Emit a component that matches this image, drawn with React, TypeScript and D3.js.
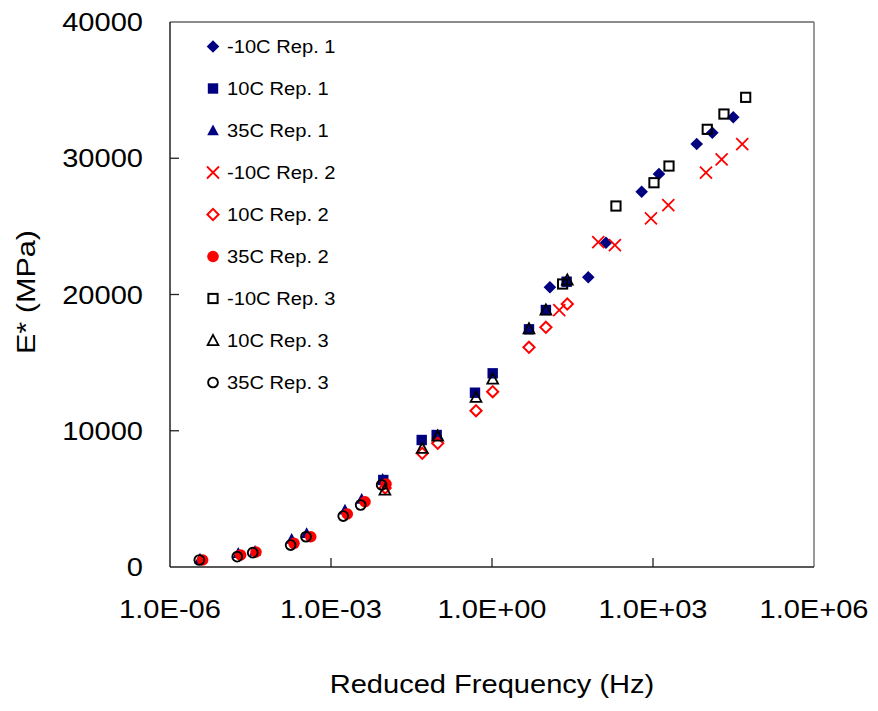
import React from "react";
import * as d3 from "d3";

// ---- Data (frequency in Hz, E* in MPa) ----
const seriesNames = [
  "-10C Rep. 1", "10C Rep. 1", "35C Rep. 1",
  "-10C Rep. 2", "10C Rep. 2", "35C Rep. 2",
  "-10C Rep. 3", "10C Rep. 3", "35C Rep. 3",
];

const m10Rep1Freq = [12.0, 62.2, 133, 615, 1291, 6516, 12735, 31333];
const m10Rep1E = [20527, 21261, 23800, 27543, 28842, 31044, 31874, 33004];

const p10Rep1Freq = [9.42e-3, 4.9e-2, 9.31e-2, 0.482, 1.03, 4.89, 10.1, 24.6];
const p10Rep1E = [6385, 9321, 9687, 12792, 14214, 17444, 18861, 20938];

const p35Rep1Freq = [3.62e-6, 1.87e-5, 3.84e-5, 1.85e-4, 3.52e-4, 1.82e-3, 3.73e-3, 9.18e-3];
const p35Rep1E = [600, 1020, 1180, 2050, 2480, 4200, 5000, 6450];

const m10Rep2Freq = [17.9, 95.5, 195, 916, 1928, 9705, 19011, 46026];
const m10Rep2E = [18861, 23852, 23632, 25590, 26567, 28937, 29920, 31044];

const p10Rep2Freq = [1.02e-2, 5.02e-2, 9.73e-2, 0.504, 1.03, 4.89, 10.1, 25.3];
const p10Rep2E = [5800, 8345, 9078, 11471, 12866, 16124, 17592, 19302];

const p35Rep2Freq = [4.06e-6, 2.07e-5, 4.0e-5, 2.04e-4, 4.19e-4, 2.01e-3, 4.3e-3, 1.06e-2];
const p35Rep2E = [514, 880, 1100, 1740, 2220, 3890, 4790, 6090];

const m10Rep3Freq = [20.7, 204, 1042, 1986, 10257, 20989, 53333];
const m10Rep3E = [20770, 26494, 28204, 29429, 32122, 33245, 34471];

const p10Rep3Freq = [1.01e-2, 5.02e-2, 9.73e-2, 0.504, 1.03, 4.89, 10.1, 25.3];
const p10Rep3E = [5651, 8711, 9614, 12454, 13797, 17489, 18861, 21063];

const p35Rep3Freq = [3.52e-6, 1.79e-5, 3.48e-5, 1.77e-4, 3.42e-4, 1.69e-3, 3.57e-3, 8.79e-3];
const p35Rep3E = [514, 756, 1050, 1610, 2220, 3740, 4550, 6020];

const xTickValues = [1e-6, 1e-3, 1, 1e3, 1e6];
const xTickLabels = ["1.0E-06", "1.0E-03", "1.0E+00", "1.0E+03", "1.0E+06"];
const yTickValues = [0, 10000, 20000, 30000, 40000];
const yTickLabels = ["0", "10000", "20000", "30000", "40000"];

const xTitle = "Reduced Frequency (Hz)";
const yTitle = "E* (MPa)";

// ---- Styles ----
const NAVY = "#000080";
const RED = "#FF0000";
const BLACK = "#000000";
const FONT = "'Liberation Sans', Arial, sans-serif";

type MarkerType =
  | "diamondFill" | "squareFill" | "triangleFill"
  | "cross" | "diamondOpen" | "circleFill"
  | "squareOpen" | "triangleOpen" | "circleOpen";

const seriesStyle: { marker: MarkerType; color: string }[] = [
  { marker: "diamondFill", color: NAVY },
  { marker: "squareFill", color: NAVY },
  { marker: "triangleFill", color: NAVY },
  { marker: "cross", color: RED },
  { marker: "diamondOpen", color: RED },
  { marker: "circleFill", color: RED },
  { marker: "squareOpen", color: BLACK },
  { marker: "triangleOpen", color: BLACK },
  { marker: "circleOpen", color: BLACK },
];

const seriesData = [
  [m10Rep1Freq, m10Rep1E],
  [p10Rep1Freq, p10Rep1E],
  [p35Rep1Freq, p35Rep1E],
  [m10Rep2Freq, m10Rep2E],
  [p10Rep2Freq, p10Rep2E],
  [p35Rep2Freq, p35Rep2E],
  [m10Rep3Freq, m10Rep3E],
  [p10Rep3Freq, p10Rep3E],
  [p35Rep3Freq, p35Rep3E],
];

function Marker({ type, color, x, y }: { type: MarkerType; color: string; x: number; y: number }) {
  const t = `translate(${x},${y})`;
  switch (type) {
    case "diamondFill":
      return <path transform={t} d="M0,-6.3L6.3,0L0,6.3L-6.3,0Z" fill={color} />;
    case "squareFill":
      return <rect transform={t} x={-5.2} y={-5.2} width={10.4} height={10.4} fill={color} />;
    case "triangleFill":
      return <path transform={t} d="M0,-6L5.8,4.8L-5.8,4.8Z" fill={color} />;
    case "cross":
      return <path transform={t} d="M-6,-6L6,6M-6,6L6,-6" stroke={color} strokeWidth={1.8} fill="none" />;
    case "diamondOpen":
      return <path transform={t} d="M0,-5.6L5.6,0L0,5.6L-5.6,0Z" stroke={color} strokeWidth={2} fill="none" />;
    case "circleFill":
      return <circle transform={t} r={5.8} fill={color} />;
    case "squareOpen":
      return <rect transform={t} x={-4.6} y={-4.6} width={9.2} height={9.2} stroke={color} strokeWidth={2} fill="none" />;
    case "triangleOpen":
      return <path transform={t} d="M0,-5.6L5.4,4.6L-5.4,4.6Z" stroke={color} strokeWidth={1.8} fill="none" strokeLinejoin="miter" />;
    case "circleOpen":
      return <circle transform={t} r={4.9} stroke={color} strokeWidth={1.9} fill="none" />;
  }
  return null;
}

export default function App() {
  const width = 878;
  const height = 711;
  const left = 170, right = 814, top = 22, bottom = 567;

  const x = d3.scaleLog().domain([1e-6, 1e6]).range([left, right]);
  const y = d3.scaleLinear().domain([0, 40000]).range([bottom, top]);

  const tickLen = 9;
  const legendX = 213;
  const legendY0 = 46.5;
  const legendDy = 42;

  return (
    <svg
      width={width}
      height={height}
      style={{ position: "absolute", left: 0, top: 0, background: "#fff" }}
      fontFamily={FONT}
    >
      <rect x={0} y={0} width={width} height={height} fill="#fff" />
      {/* frame */}
      <line x1={left} y1={top} x2={right} y2={top} stroke="#666" strokeWidth={1.5} />
      <line x1={right} y1={top} x2={right} y2={bottom} stroke="#777" strokeWidth={1.5} />
      <line x1={left} y1={top} x2={left} y2={bottom} stroke="#222" strokeWidth={1.5} />
      <line x1={left} y1={bottom} x2={right} y2={bottom} stroke="#222" strokeWidth={1.5} />

      {/* x ticks */}
      {xTickValues.map((v, i) => (
        <g key={"xt" + i}>
          {i > 0 && i < xTickValues.length - 1 && (
            <line x1={x(v)} x2={x(v)} y1={bottom} y2={bottom - tickLen} stroke="#222" strokeWidth={1.3} />
          )}
          <text
            transform={`translate(${x(v)},618) scale(1.14,1)`}
            textAnchor="middle"
            fontSize={25.5}
            fill="#000"
          >
            {xTickLabels[i]}
          </text>
        </g>
      ))}

      {/* y ticks */}
      {yTickValues.map((v, i) => (
        <g key={"yt" + i}>
          {i > 0 && i < yTickValues.length - 1 && (
            <line x1={left} x2={left + tickLen} y1={y(v)} y2={y(v)} stroke="#222" strokeWidth={1.3} />
          )}
          <text
            transform={`translate(143,${y(v) + 9}) scale(1.14,1)`}
            textAnchor="end"
            fontSize={25.5}
            fill="#000"
          >
            {yTickLabels[i]}
          </text>
        </g>
      ))}

      {/* axis titles */}
      <text
        transform={`translate(${(left + right) / 2},693) scale(1.14,1)`}
        textAnchor="middle"
        fontSize={25.5}
        fill="#000"
      >
        {xTitle}
      </text>
      <text
        transform={`translate(35,292) rotate(-90) scale(1.2,1)`}
        textAnchor="middle"
        fontSize={25.5}
        fill="#000"
      >
        {yTitle}
      </text>

      {/* data */}
      {seriesData.map(([fs, es], si) => (
        <g key={"s" + si}>
          {fs.map((f, j) => (
            <Marker
              key={j}
              type={seriesStyle[si].marker}
              color={seriesStyle[si].color}
              x={x(f)}
              y={y(es[j])}
            />
          ))}
        </g>
      ))}

      {/* legend */}
      {seriesNames.map((name, i) => {
        const cy = legendY0 + i * legendDy;
        return (
          <g key={"lg" + i}>
            <Marker type={seriesStyle[i].marker} color={seriesStyle[i].color} x={legendX} y={cy} />
            <text
              transform={`translate(227,${cy + 6.8}) scale(1.06,1)`}
              fontSize={19}
              fill="#000"
            >
              {name}
            </text>
          </g>
        );
      })}
    </svg>
  );
}
